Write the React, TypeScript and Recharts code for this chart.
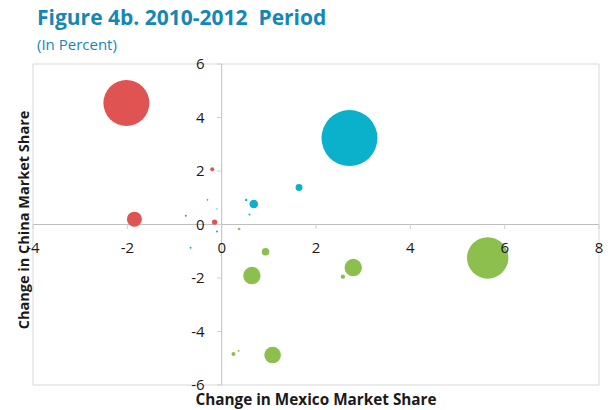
import React from 'react';
import {
  ScatterChart,
  Scatter,
  XAxis,
  YAxis,
  ZAxis,
  ReferenceLine,
  ReferenceArea,
  ReferenceDot,
} from 'recharts';

// Bubble data: x = change in Mexico market share, y = change in China market share, z = bubble size value
const redSeries = [
  { x: -2.02, y: 4.54, z: 529 },
  { x: -1.85, y: 0.2, z: 56 },
  { x: -0.15, y: 0.09, z: 7.3 },
  { x: -0.2, y: 2.07, z: 4 },
  { x: -0.76, y: 0.33, z: 1 },
  { x: -0.3, y: 0.92, z: 0.6 },
];

const cyanSeries = [
  { x: 2.71, y: 3.23, z: 784 },
  { x: 1.64, y: 1.38, z: 12 },
  { x: 0.68, y: 0.77, z: 18 },
  { x: 0.52, y: 0.92, z: 1.4 },
  { x: 0.59, y: 0.37, z: 1 },
  { x: -0.1, y: 0.58, z: 0.4 },
  { x: -0.1, y: -0.26, z: 1 },
  { x: -0.66, y: -0.87, z: 1 },
];

const greenSeries = [
  { x: 5.64, y: -1.25, z: 428 },
  { x: 2.79, y: -1.61, z: 76 },
  { x: 2.57, y: -1.95, z: 4.8 },
  { x: 0.64, y: -1.91, z: 76 },
  { x: 0.93, y: -1.02, z: 14.4 },
  { x: 1.08, y: -4.88, z: 69 },
  { x: 0.25, y: -4.84, z: 4 },
  { x: 0.36, y: -4.72, z: 1 },
  { x: 0.37, y: -0.17, z: 1.7 },
];

const xTicks = [-4, -2, 0, 2, 4, 6, 8];
const yTicks = [-6, -4, -2, 0, 2, 4, 6];

const title = 'Figure 4b. 2010-2012\u00a0 Period';
const subtitle = '(In Percent)';
const xTitle = 'Change in Mexico Market Share';
const yTitle = 'Change in China Market Share';

const FONT = '"Open Sans", "DejaVu Sans", sans-serif';
const BLUE = '#1587B7';
const TEXT = '#1a1a1a';
const MAX_Z = 784;

export default function App() {
  return (
    <div
      style={{
        position: 'absolute',
        left: 0,
        top: 0,
        width: 610,
        height: 410,
        background: '#fff',
        fontFamily: FONT,
        overflow: 'hidden',
      }}
    >
      <div
        style={{
          position: 'absolute',
          left: 37,
          top: 3,
          fontSize: 21,
          fontWeight: 700,
          color: BLUE,
          whiteSpace: 'pre',
          lineHeight: '28px',
        }}
      >
        {title}
      </div>
      <div
        style={{
          position: 'absolute',
          left: 37,
          top: 34,
          fontSize: 15,
          color: BLUE,
          lineHeight: '20px',
        }}
      >
        {subtitle}
      </div>
      <div style={{ position: 'absolute', left: 0, top: 0 }}>
        <ScatterChart
          width={610}
          height={410}
          margin={{ top: 64, right: 11, bottom: 25, left: 33 }}
        >
          <XAxis type="number" dataKey="x" domain={[-4, 8]} ticks={xTicks} hide />
          <YAxis type="number" dataKey="y" domain={[-6, 6]} ticks={yTicks} hide />
          <ZAxis type="number" dataKey="z" domain={[0, MAX_Z]} range={[0, MAX_Z * Math.PI]} />
          <ReferenceArea x1={-4} x2={8} y1={-6} y2={6} fill="none" stroke="#d9d9d9" strokeWidth={1} />
          <ReferenceLine x={0} stroke="#bfbfbf" strokeWidth={1} />
          <ReferenceLine y={0} stroke="#bfbfbf" strokeWidth={1} />
          {xTicks.map((t) => (
            <ReferenceLine
              key={'xt' + t}
              segment={[{ x: t, y: 0 }, { x: t, y: -0.17 }]}
              stroke="#d0d0d0"
            />
          ))}
          {yTicks.map((t) => (
            <ReferenceLine
              key={'yt' + t}
              segment={[{ x: 0, y: t }, { x: -0.1, y: t }]}
              stroke="#d0d0d0"
            />
          ))}
          {xTicks.map((t) => (
            <ReferenceDot
              key={'xl' + t}
              x={t}
              y={0}
              r={0}
              fill="none"
              stroke="none"
              label={{
                value: String(t),
                position: 'bottom',
                offset: 18,
                fontSize: 15,
                fill: TEXT,
                fontFamily: FONT,
              }}
            />
          ))}
          {yTicks.map((t) => (
            <ReferenceDot
              key={'yl' + t}
              x={0}
              y={t}
              r={0}
              fill="none"
              stroke="none"
              label={{
                value: String(t),
                position: 'left',
                offset: 17,
                fontSize: 15,
                fill: TEXT,
                fontFamily: FONT,
              }}
            />
          ))}
          <Scatter data={redSeries} fill="#E05353" isAnimationActive={false} />
          <Scatter data={cyanSeries} fill="#0BB0CB" isAnimationActive={false} />
          <Scatter data={greenSeries} fill="#8CBF4E" isAnimationActive={false} />
        </ScatterChart>
      </div>
      <div
        style={{
          position: 'absolute',
          left: 0,
          width: 632,
          top: 389,
          textAlign: 'center',
          fontSize: 15.3,
          fontWeight: 700,
          color: TEXT,
          lineHeight: '20px',
        }}
      >
        {xTitle}
      </div>
      <div
        style={{
          position: 'absolute',
          left: 24,
          top: 220,
          transform: 'translate(-50%, -50%) rotate(-90deg)',
          fontSize: 14.5,
          fontWeight: 700,
          color: TEXT,
          whiteSpace: 'nowrap',
          lineHeight: '20px',
        }}
      >
        {yTitle}
      </div>
    </div>
  );
}
